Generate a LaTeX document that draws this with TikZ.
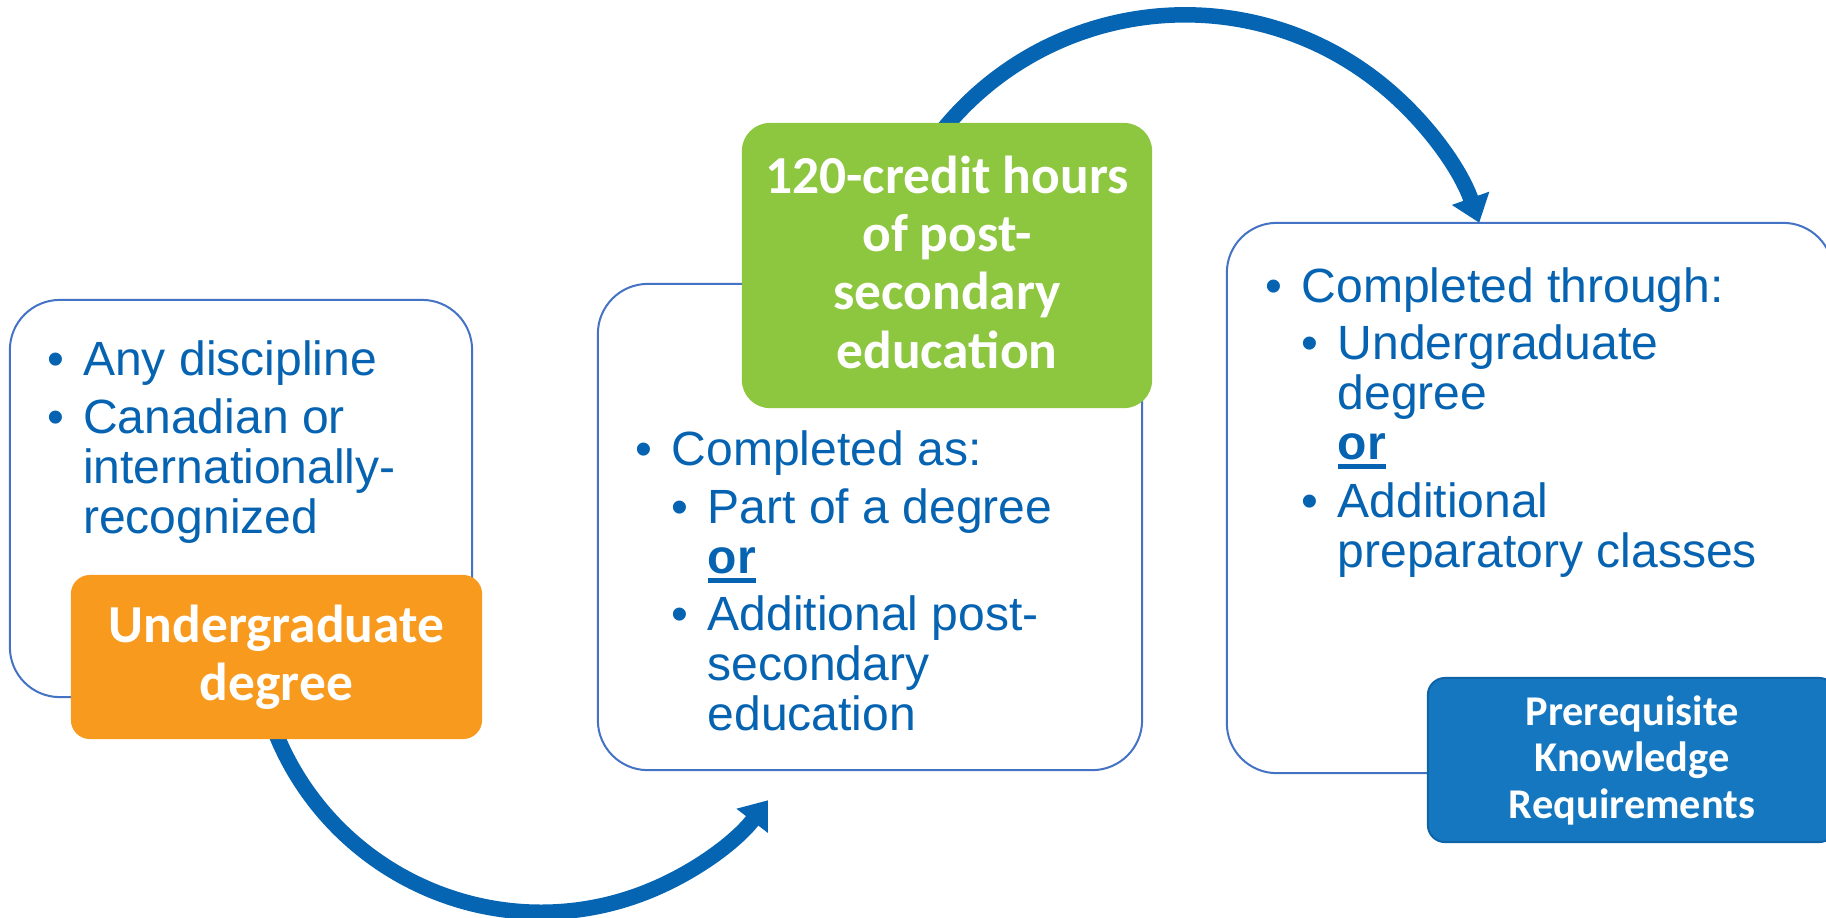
\documentclass[tikz,border=0pt]{standalone}
\usepackage{fontspec}
\setmainfont{Liberation Sans}
\newfontfamily\calfont{Carlito}
\usetikzlibrary{arrows.meta,calc}
\definecolor{txtblue}{HTML}{0563B1}
\definecolor{flowblue}{HTML}{0565B2}
\definecolor{boxline}{HTML}{4472C4}
\definecolor{ugorange}{HTML}{F89A1E}
\definecolor{crgreen}{HTML}{8DC63F}
\definecolor{pkblue}{HTML}{1577BF}
\definecolor{pkedge}{HTML}{0F64A8}
\newcommand\bul{\makebox[0.36cm][l]{•}}
\newcommand\ind{\hspace*{0.36cm}}
\newcommand\subl{\hspace*{0.36cm}}
\newcommand\ulor{\setbox0\hbox{\bfseries or}\rlap{\rule[-0.103cm]{\wd0}{0.056cm}}\box0}
\tikzset{
  card/.style={rectangle, draw=boxline, line width=0.02cm, fill=white, rounded corners=0.5cm, inner sep=0pt},
  tag/.style={rectangle, draw=none, inner sep=0pt},
  flow/.style={draw=flowblue, line width=0.155cm, -{Triangle[length=0.26cm,width=0.38cm]}},
  body/.style={text=txtblue, inner sep=0pt, anchor=base west, font=\fontsize{13.66pt}{14.23pt}\selectfont},
  lab/.style={text=white, inner sep=0pt, anchor=base, font=\calfont\bfseries\fontsize{15.2pt}{16.59pt}\selectfont},
  labs/.style={text=white, inner sep=0pt, anchor=base, font=\calfont\bfseries\fontsize{12.05pt}{13.23pt}\selectfont},
}
\begin{document}
\begin{tikzpicture}[x=0.01cm,y=-0.01cm]
\useasboundingbox (0,0) rectangle (1826,917);
\clip (0,0) rectangle (1826,917);

% arc centres
\coordinate (o1) at (541,626);
\coordinate (o2) at (1185,327);

% connectors (drawn under the boxes)
\draw[flow] ($(o1)+(201:2.86cm)$) arc[start angle=201, end angle=322.5, radius=2.86cm];
\draw[flow] ($(o2)+(141:3.12cm)$) arc[start angle=141, end angle=19.5, radius=3.12cm];

% white cards
\node[card, minimum width=4.62cm, minimum height=3.97cm] (card1) at (241,498.5) {};
\node[card, minimum width=5.44cm, minimum height=4.86cm] (card2) at (870,527) {};
\node[card, minimum width=6.06cm, minimum height=5.50cm] (card3) at (1530,498) {};

% coloured tags
\node[tag, fill=ugorange, rounded corners=0.19cm, minimum width=4.11cm, minimum height=1.64cm] (tagUG) at (276.5,657) {};
\node[tag, fill=crgreen, rounded corners=0.28cm, minimum width=4.10cm, minimum height=2.85cm] (tagCR) at (947,265.5) {};
\node[tag, fill=pkblue, draw=pkedge, line width=0.02cm, rounded corners=0.17cm, minimum width=4.08cm, minimum height=1.64cm] (tagPK) at (1632,760) {};

% tag labels
\node[lab] (labUG) at (276.5,642) {\begin{tabular}[t]{@{}c@{}}Undergraduate\\ degree\end{tabular}};
\node[lab] (labCR) at (947,193) {\begin{tabular}[t]{@{}c@{}}120-credit hours\\ of post-\\ secondary\\ education\end{tabular}};
\node[labs] (labPK) at (1632,725) {\begin{tabular}[t]{@{}c@{}}Prerequisite\\ Knowledge\\ Requirements\end{tabular}};

% bullet texts
\node[body] (txt1) at (46.5,375) {\begin{tabular}[t]{@{}l@{}}
\bul Any discipline\\[0.08cm]
\bul Canadian or\\
\ind internationally-\\
\ind recognized
\end{tabular}};

\node[body] (txt2) at (635,465) {\begin{tabular}[t]{@{}l@{}}
\bul Completed as:\\[0.08cm]
\subl\bul Part of a degree\\
\subl\ind\ulor\\[0.07cm]
\subl\bul Additional post-\\
\subl\ind secondary\\
\subl\ind education
\end{tabular}};

\node[body] (txt3) at (1265,302) {\begin{tabular}[t]{@{}l@{}}
\bul Completed through:\\[0.07cm]
\subl\bul Undergraduate\\
\subl\ind degree\\
\subl\ind\ulor\\[0.08cm]
\subl\bul Additional\\
\subl\ind preparatory classes
\end{tabular}};
\end{tikzpicture}
\end{document}
